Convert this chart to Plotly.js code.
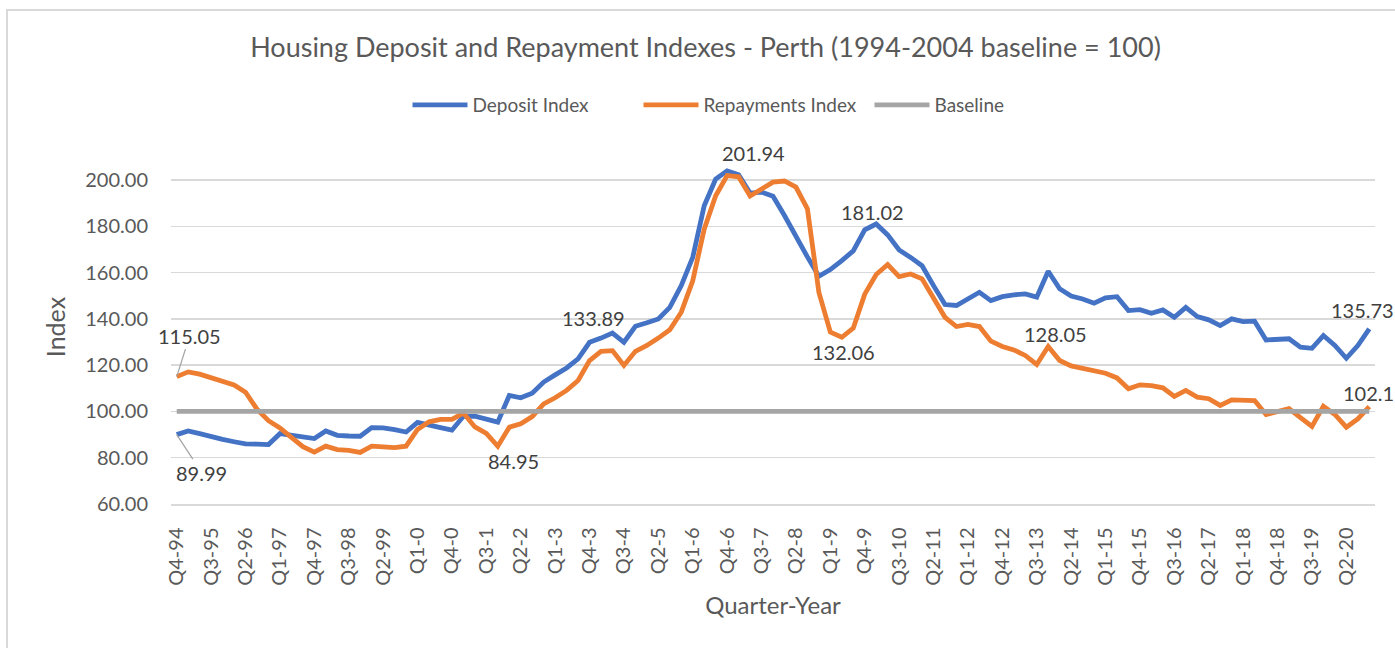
<!DOCTYPE html>
<html>
<head>
<meta charset="utf-8">
<script src="https://cdn.plot.ly/plotly-3.0.1.min.js"></script>
<style>
html,body{margin:0;padding:0;background:#fff;}
#chart{width:1395px;height:648px;}
</style>
</head>
<body>
<div id="chart"></div>
<script>
const quarters = [
"Q4-94",
"Q1-95","Q2-95","Q3-95","Q4-95",
"Q1-96","Q2-96","Q3-96","Q4-96",
"Q1-97","Q2-97","Q3-97","Q4-97",
"Q1-98","Q2-98","Q3-98","Q4-98",
"Q1-99","Q2-99","Q3-99","Q4-99",
"Q1-0","Q2-0","Q3-0","Q4-0",
"Q1-1","Q2-1","Q3-1","Q4-1",
"Q1-2","Q2-2","Q3-2","Q4-2",
"Q1-3","Q2-3","Q3-3","Q4-3",
"Q1-4","Q2-4","Q3-4","Q4-4",
"Q1-5","Q2-5","Q3-5","Q4-5",
"Q1-6","Q2-6","Q3-6","Q4-6",
"Q1-7","Q2-7","Q3-7","Q4-7",
"Q1-8","Q2-8","Q3-8","Q4-8",
"Q1-9","Q2-9","Q3-9","Q4-9",
"Q1-10","Q2-10","Q3-10","Q4-10",
"Q1-11","Q2-11","Q3-11","Q4-11",
"Q1-12","Q2-12","Q3-12","Q4-12",
"Q1-13","Q2-13","Q3-13","Q4-13",
"Q1-14","Q2-14","Q3-14","Q4-14",
"Q1-15","Q2-15","Q3-15","Q4-15",
"Q1-16","Q2-16","Q3-16","Q4-16",
"Q1-17","Q2-17","Q3-17","Q4-17",
"Q1-18","Q2-18","Q3-18","Q4-18",
"Q1-19","Q2-19","Q3-19","Q4-19",
"Q1-20","Q2-20","Q3-20","Q4-20"
];

const depositIndex = [
89.99,
91.6,90.4,89.0,87.9,
86.9,86.0,85.9,85.7,
90.4,89.7,89.0,88.3,
91.6,89.7,89.4,89.3,
93.0,92.9,92.1,91.1,
95.3,93.9,93.0,91.9,
97.9,98.0,96.8,95.4,
106.9,105.9,107.9,112.7,
115.8,118.8,122.7,129.9,
131.7,133.89,129.9,136.8,
138.3,140.0,145.0,154.4,
166.6,188.9,200.4,204.0,
202.3,194.4,194.8,193.0,
184.7,175.4,166.8,158.4,
161.3,165.2,169.4,178.5,
181.02,176.3,169.8,166.6,
163.0,154.4,146.2,145.8,
148.6,151.5,147.9,149.6,
150.4,150.8,149.4,160.6,
153.0,149.9,148.6,146.8,
149.1,149.6,143.6,144.0,
142.4,143.9,140.7,145.0,
141.0,139.6,137.1,140.0,
138.8,139.0,130.9,130.9,
131.4,127.8,127.3,132.8,
128.5,123.0,128.5,135.73
];

const repaymentsIndex = [
115.05,
117.1,116.1,114.7,113.3,
111.4,108.3,101.0,96.0,
92.9,88.8,84.8,82.4,
85.0,83.5,83.2,82.3,
85.0,84.7,84.4,85.0,
92.2,95.5,96.6,96.6,
99.3,93.3,90.5,84.95,
93.2,94.7,97.8,103.3,
105.9,109.1,113.4,122.0,
126.0,126.3,119.9,126.0,
128.5,131.7,135.3,142.9,
156.5,178.8,193.2,201.94,
201.4,193.1,196.0,199.1,
199.6,197.0,187.6,151.5,
134.3,132.06,136.0,150.7,
159.2,163.5,158.3,159.4,
157.3,149.4,140.7,136.7,
137.6,136.7,130.4,128.1,
126.6,124.2,120.3,128.05,
122.0,119.7,118.8,117.4,
116.5,114.5,109.8,111.5,
111.2,110.2,106.5,109.1,
106.2,105.5,102.6,105.0,
104.7,104.7,98.7,100.1,
101.2,97.3,93.5,102.2,
98.7,93.2,96.8,102.1
];

const baseline = [
100,
100,100,100,100, 100,100,100,100, 100,100,100,100, 100,100,100,100,
100,100,100,100, 100,100,100,100, 100,100,100,100, 100,100,100,100,
100,100,100,100, 100,100,100,100, 100,100,100,100, 100,100,100,100,
100,100,100,100, 100,100,100,100, 100,100,100,100, 100,100,100,100,
100,100,100,100, 100,100,100,100, 100,100,100,100, 100,100,100,100,
100,100,100,100, 100,100,100,100, 100,100,100,100, 100,100,100,100,
100,100,100,100, 100,100,100,100
];

const seriesNames = ["Deposit Index", "Repayments Index", "Baseline"];

// tick labels: every third quarter, starting with the first
const tickLabels = quarters.filter((q, i) => i % 3 === 0);

const FONT = "Lato, 'Open Sans', sans-serif";
const TEXT = "#595959";
const colors = ["#4472C4", "#ED7D31", "#A5A5A5"];
const seriesData = [depositIndex, repaymentsIndex, baseline];

const traces = seriesData.map((vals, k) => ({
  type: "scatter",
  mode: "lines",
  name: seriesNames[k],
  x: quarters,
  y: vals,
  line: {color: colors[k], width: 4.8},
  hoverinfo: "x+y+name"
}));

// data label placement (series index, point index, offsets)
const labelSpecs = [
  {s: 1, i: 0, ax: 13, ay: -41, arrow: true},
  {s: 0, i: 0, ax: 25, ay: 38, arrow: true},
  {s: 1, i: 28, dx: 16, dy: -15},
  {s: 0, i: 38, dx: -19, dy: 15},
  {s: 1, i: 48, dx: 26, dy: 23},
  {s: 0, i: 61, dx: -4, dy: 12},
  {s: 1, i: 58, dx: 2, dy: -15},
  {s: 1, i: 76, dx: 7, dy: 13},
  {s: 0, i: 104, dx: -7, dy: 19},
  {s: 1, i: 104, dx: -1, dy: 14}
];

const annotations = labelSpecs.map(sp => {
  const v = seriesData[sp.s][sp.i];
  const a = {
    x: quarters[sp.i], y: v, xref: "x", yref: "y",
    text: String(v),
    font: {family: FONT, size: 20, color: "#404040"}
  };
  if (sp.arrow) {
    Object.assign(a, {showarrow: true, ax: sp.ax, ay: sp.ay, arrowhead: 0,
      arrowwidth: 1.3, arrowcolor: "#A6A6A6", standoff: 0, startstandoff: 0});
  } else {
    Object.assign(a, {showarrow: false, xshift: sp.dx, yshift: sp.dy,
      xanchor: "center", yanchor: "middle"});
  }
  return a;
});

const layout = {
  width: 1395, height: 648,
  margin: {l: 171, r: 20, t: 150, b: 144, pad: 0},
  paper_bgcolor: "#ffffff", plot_bgcolor: "#ffffff",
  font: {family: FONT, color: TEXT},
  showlegend: true,
  title: {
    text: "Housing Deposit and Repayment Indexes - Perth (1994-2004 baseline = 100)",
    xref: "container", yref: "container",
    x: 705.5 / 1395, xanchor: "center",
    y: 1 - 48 / 648, yanchor: "middle",
    font: {family: FONT, size: 27, color: TEXT}
  },
  legend: {
    orientation: "h",
    xref: "container", yref: "container",
    x: 754 / 1395, xanchor: "center",
    y: 1 - 105 / 648, yanchor: "middle",
    itemwidth: 55,
    entrywidth: 161, entrywidthmode: "pixels",
    font: {family: FONT, size: 19, color: TEXT},
    bgcolor: "rgba(0,0,0,0)"
  },
  xaxis: {
    type: "category",
    range: [-0.5, quarters.length - 0.5],
    tickmode: "array",
    tickvals: tickLabels,
    ticktext: tickLabels,
    tickangle: -90,
    ticks: "",
    showgrid: false,
    showline: true, linecolor: "#D9D9D9", linewidth: 1.5,
    zeroline: false,
    automargin: false,
    ticklabelstandoff: 14,
    tickfont: {family: FONT, size: 20, color: TEXT},
    title: {text: "Quarter-Year", font: {family: FONT, size: 24, color: TEXT}, standoff: 12}
  },
  yaxis: {
    range: [60, 213],
    tickmode: "linear", tick0: 60, dtick: 20,
    tickformat: ".2f",
    showgrid: true, gridcolor: "#D9D9D9", gridwidth: 1.5,
    zeroline: false, showline: false,
    ticks: "",
    automargin: false,
    ticklabelstandoff: 22,
    tickfont: {family: FONT, size: 20, color: TEXT},
    title: {text: "Index", font: {family: FONT, size: 25, color: TEXT}, standoff: 12}
  },
  annotations: annotations,
  shapes: [{
    type: "rect", xref: "paper", yref: "paper", layer: "below",
    x0: (7 - 171) / 1204, x1: (1410 - 171) / 1204,
    y0: (504 - 680) / 354, y1: (504 - 10) / 354,
    line: {color: "#D9D9D9", width: 2}, fillcolor: "rgba(0,0,0,0)"
  }]
};

Plotly.newPlot("chart", traces, layout, {displayModeBar: false, staticPlot: true}).then(gd => {
  // lengthen the legend line samples to match the symbol width
  gd.querySelectorAll("g.legend g.legendlines path").forEach(p => p.setAttribute("d", "M5,0h55"));
});
</script>
</body>
</html>
